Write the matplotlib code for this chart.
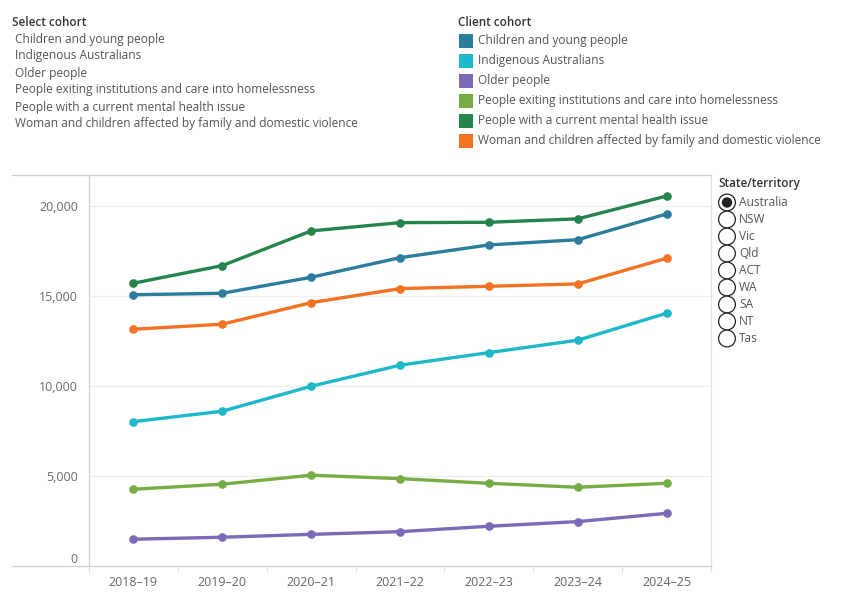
import matplotlib
matplotlib.use("Agg")
import matplotlib.pyplot as plt
from matplotlib.patches import Circle, Rectangle
from matplotlib.lines import Line2D
from matplotlib.transforms import IdentityTransform
from matplotlib.ticker import FuncFormatter, FixedLocator

plt.rcParams['font.family'] = ['Open Sans', 'DejaVu Sans']

years = ['2018–19', '2019–20', '2020–21', '2021–22', '2022–23', '2023–24', '2024–25']
cohorts = ['Children and young people', 'Indigenous Australians', 'Older people',
           'People exiting institutions and care into homelessness',
           'People with a current mental health issue',
           'Woman and children affected by family and domestic violence']
children = [15090, 15170, 16060, 17150, 17860, 18150, 19580]
indigenous = [8030, 8610, 10000, 11170, 11870, 12560, 14060]
older = [1490, 1600, 1760, 1910, 2210, 2470, 2930]
exiting = [4270, 4550, 5050, 4860, 4600, 4380, 4600]
mental = [15730, 16710, 18640, 19100, 19120, 19310, 20580]
violence = [13170, 13450, 14650, 15430, 15560, 15690, 17120]
colors = ['#2C7C9C', '#1DB8C9', '#7C69B7', '#76AD45', '#24844C', '#F37223']
states = ['Australia', 'NSW', 'Vic', 'Qld', 'ACT', 'WA', 'SA', 'NT', 'Tas']
series = [children, indigenous, older, exiting, mental, violence]

W, H = 850, 600
fig = plt.figure(figsize=(W / 100, H / 100), dpi=100)
fig.patch.set_facecolor('white')
IT = IdentityTransform()

def fx(x):
    return x / W

def fy(y):
    return 1 - y / H

L, R, T, B = 89, 711, 175, 566
ax = fig.add_axes([fx(L), fy(B), fx(R) - fx(L), fy(T) - fy(B)])
xs = list(range(len(years)))
for vals, c in zip(series, colors):
    ax.plot(xs, vals, color=c, lw=2.4, marker='o', ms=5.2, solid_capstyle='round',
            zorder=3, clip_on=False)

ax.set_xlim(-0.5, len(years) - 0.5)
ax.set_ylim(0, 21750)
ax.yaxis.set_major_locator(FixedLocator([0, 5000, 10000, 15000, 20000]))
ax.yaxis.set_major_formatter(FuncFormatter(lambda v, p: f'{int(v):,}'))
ax.set_xticks(xs)
ax.set_xticklabels(years)
ax.set_xticks([i - 0.5 for i in range(len(years) + 1)], minor=True)
ax.tick_params(axis='y', length=0, pad=8, labelsize=9, labelcolor='#6a6a6a')
ax.tick_params(axis='x', which='major', length=0, pad=7, labelsize=9, labelcolor='#666666')
ax.tick_params(axis='x', which='minor', length=4, color='#e0e0e0', width=0.8)
ax.yaxis.get_major_ticks()[0].label1.set_verticalalignment('bottom')
for s in ['left', 'right', 'top', 'bottom']:
    ax.spines[s].set_color('#cfcfcf')
    ax.spines[s].set_linewidth(0.9)
ax.spines['right'].set_color('#e2e2e2')
for g in [5000, 10000, 15000, 20000]:
    ax.axhline(g, color='#efefef', lw=0.9, zorder=1)

# extend top and bottom border lines to the left
for yy in (T, B):
    fig.add_artist(Line2D([fx(12), fx(L)], [fy(yy), fy(yy)], color='#cfcfcf', lw=0.9))

TS = 8.6
HS = 8.4
# Select cohort list
fig.text(fx(12), fy(22), 'Select cohort', fontsize=HS, fontweight='semibold', color='#333333', va='center')
for i, name in enumerate(cohorts):
    fig.text(fx(15), fy(39 + 17 * i), name, fontsize=TS, color='#555555', va='center')

# Client cohort legend
fig.text(fx(458), fy(22), 'Client cohort', fontsize=HS, fontweight='semibold', color='#333333', va='center')
for i, (name, c) in enumerate(zip(cohorts, colors)):
    yc = 40.5 + 20 * i
    fig.add_artist(Rectangle((459, H - yc - 7), 14, 14, transform=IT, facecolor=c, edgecolor='none'))
    fig.text(fx(478), fy(yc), name, fontsize=TS, color='#555555', va='center')

# State/territory radio list
fig.text(fx(718), fy(184), 'State/territory', fontsize=HS, fontweight='semibold', color='#333333', va='center')
for i, st in enumerate(states):
    yc = 202.5 + 17 * i
    fig.add_artist(Circle((727, H - yc), 8.4, transform=IT, facecolor='white', edgecolor='#222222', lw=0.9))
    if i == 0:
        fig.add_artist(Circle((727, H - yc), 5.2, transform=IT, facecolor='#222222', edgecolor='none'))
    fig.text(fx(739), fy(yc), st, fontsize=TS, color='#555555', va='center')

fig.savefig('out.png', dpi=100)
